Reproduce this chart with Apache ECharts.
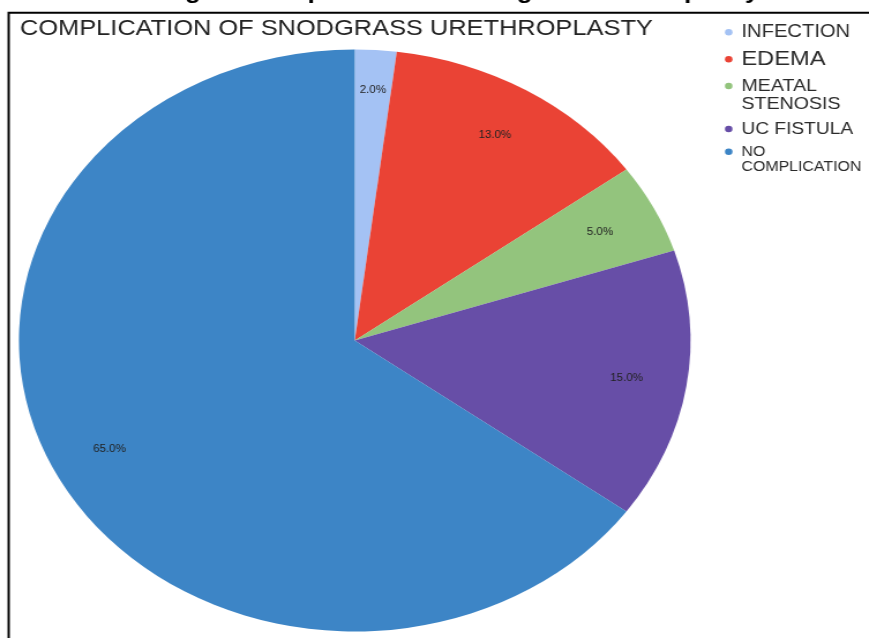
<!DOCTYPE html>
<html>
<head>
<meta charset="utf-8">
<script src="https://cdn.jsdelivr.net/npm/echarts@6/dist/echarts.min.js"></script>
<style>
  html, body { margin: 0; padding: 0; background: #fff; overflow: hidden; }
  #wrap { width: 869px; height: 638px; overflow: hidden; position: relative; }
  /* the chart is laid out on a narrower canvas and widened horizontally */
  #chart { position: absolute; left: 0; top: 0; width: 753px; height: 638px;
           transform: scaleX(1.154); transform-origin: 0 0; }
</style>
</head>
<body>
<div id="wrap"><div id="chart"></div></div>
<script>
// complication categories and their share of cases (%)
const categories = ['INFECTION', 'EDEMA', 'MEATAL\nSTENOSIS', 'UC FISTULA', 'NO\nCOMPLICATION'];
const percentages = [2, 13, 5, 15, 65];
const sliceColors = ['#a4c2f4', '#ea4335', '#93c47d', '#674ea7', '#3d85c6'];

const chartTitle = 'COMPLICATION OF SNODGRASS URETHROPLASTY';
const captionText = '%age of complication in Snodgrass urethroplasty';

const FONT = '"Liberation Sans", Arial, sans-serif';
const pieCenter = [307.4, 340.5];
const pieRadius = 291;

// one legend block per category, so each entry can carry its own type size;
// two-line names get a leading blank line so the marker sits on the first line
const legendLayout = [
  { top: 23.3,  fontSize: 17.5, lineHeight: 18 },
  { top: 48.8,  fontSize: 20.5, lineHeight: 21 },
  { top: 59,    fontSize: 17,   lineHeight: 18 },
  { top: 120.5, fontSize: 16.6, lineHeight: 17 },
  { top: 129.2, fontSize: 13.8, lineHeight: 15 }
];

const legends = categories.map((name, i) => {
  const l = legendLayout[i];
  return {
    data: [name], orient: 'vertical', left: 628.2, top: l.top, padding: 0,
    icon: 'circle', itemWidth: 12, itemHeight: 6.5, selectedMode: false,
    formatter: n => (n.indexOf('\n') >= 0 ? '\n' + n : n),
    textStyle: { color: '#2b2b2b', fontFamily: FONT, fontSize: l.fontSize, lineHeight: l.lineHeight }
  };
});

const sliceData = categories.map((name, i) => ({
  name, value: percentages[i], itemStyle: { color: sliceColors[i] }
}));

const labelData = categories.map((name, i) => {
  const d = { name, value: percentages[i] };
  if (i === 0) d.label = { offset: [0.8, -12] };
  return d;
});

const chart = echarts.init(document.getElementById('chart'), null, { renderer: 'canvas' });
chart.setOption({
  animation: false,
  backgroundColor: '#fff',
  title: {
    text: chartTitle, left: 17.3, top: 17.6, padding: 0,
    textStyle: { color: '#222', fontFamily: FONT, fontSize: 22, fontWeight: 'normal', lineHeight: 22 }
  },
  legend: legends,
  graphic: [
    { type: 'rect', silent: true, z: 100,
      shape: { x: 7.5, y: 12.7, width: 900, height: 800 },
      style: { fill: null, stroke: '#000', lineWidth: 2 } },
    { type: 'text', silent: true, x: 127.8, y: -8.3,
      style: { text: captionText, font: 'bold 22.5px ' + FONT, fill: '#000',
               align: 'left', verticalAlign: 'middle' } }
  ],
  series: [
    {
      type: 'pie', name: 'slices', center: pieCenter, radius: [0, pieRadius],
      startAngle: 90, clockwise: true, silent: true,
      label: { show: false }, labelLine: { show: false },
      itemStyle: { borderWidth: 0 },
      data: sliceData
    },
    {
      // transparent ring used only to place the percentage labels
      type: 'pie', name: 'labels', center: pieCenter, radius: [180, pieRadius],
      startAngle: 90, clockwise: true, silent: true,
      itemStyle: { color: 'rgba(0,0,0,0)', borderWidth: 0 },
      labelLine: { show: false },
      label: {
        show: true, position: 'inside', color: '#222', fontFamily: FONT, fontSize: 10,
        formatter: p => p.value.toFixed(1) + '%'
      },
      data: labelData
    }
  ]
});
</script>
</body>
</html>
